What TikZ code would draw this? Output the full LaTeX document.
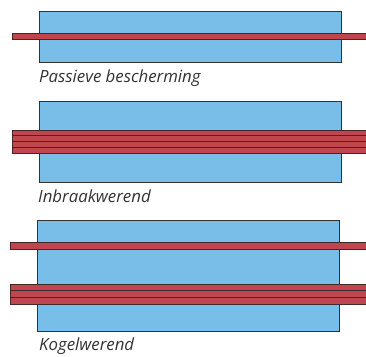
\documentclass[tikz,border=0pt]{standalone}
\usepackage{fontspec}
\setmainfont{Open Sans}
\begin{document}
\begin{tikzpicture}[%
x=1pt, y=-1pt,
glass/.style={fill=glassblue, draw=black!80, line width=0.9pt},
bar/.style={fill=barred, draw=bardark, line width=0.9pt},
caption/.style={anchor=base west, inner sep=0pt, font=\itshape\fontsize{16.8}{18}\selectfont, text=black!80},
]
\definecolor{glassblue}{RGB}{120,190,232}
\definecolor{barred}{RGB}{192,70,78}
\definecolor{bardark}{RGB}{66,40,42}
\useasboundingbox (0,0) rectangle (366,356);
%% passieve bescherming;
\draw [glass] (39,11) rectangle (341,62);
\draw [bar] (12,33) rectangle (368,39);
\node [caption] (passief) at (39,82) {Passieve bescherming};
%% inbraakwerend;
\draw [glass] (39,101) rectangle (341,182);
\draw [bar] (12,130) rectangle (368,153);
\foreach \y in {135.75,141.5,147.25}
  \draw [bardark, line width=0.9pt] (12,\y) -- (368,\y);
\node [caption] (inbraak) at (38,202) {Inbraakwerend};
%% kogelwerend;
\draw [glass] (37,220) rectangle (339,331);
\draw [bar] (10,242) rectangle (368,249);
\draw [bar] (10,284) rectangle (368,304);
\foreach \y in {290.7,297.3}
  \draw [bardark, line width=0.9pt] (10,\y) -- (368,\y);
\node [caption] (kogel) at (39,350) {Kogelwerend};
\end{tikzpicture}
\end{document}
